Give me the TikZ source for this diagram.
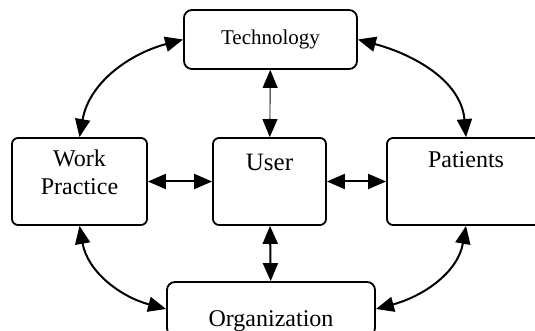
\documentclass[tikz,border=0pt]{standalone}
\usepackage{fontspec}
\setmainfont{Liberation Serif}
\usetikzlibrary{arrows.meta, positioning}

\begin{document}
\begin{tikzpicture}[x=0.5pt, y=0.5pt,
  block/.style={draw, line width=0.9pt, rounded corners=4pt, inner sep=0pt, align=center, font=\fontsize{12}{14}\selectfont},
  link/.style={line width=1pt, {Triangle[length=9pt, width=7.5pt]}-{Triangle[length=9pt, width=7.5pt]}}]
  \useasboundingbox (0,0) rectangle (535,331);
  \clip (0,0) rectangle (535,331);
  \node[block, minimum width=86.5pt, minimum height=29.5pt, font=\fontsize{10.5}{12}\selectfont] (tech) at (270.5,291.5) {Technology};
  \node[block, rounded corners=3pt, text width=67.5pt, text height=14.5pt, text depth=29pt] (work) at (79.5,149.5) {Work\\Practice};
  \node[block, rounded corners=3pt, text width=56.5pt, text height=16.5pt, text depth=27pt, font=\fontsize{12.5}{14}\selectfont] (user) at (269.5,149.5) {User};
  \node[block, rounded corners=3pt, text width=79pt, text height=15pt, text depth=28.5pt] (patients) at (466,149.5) {Patients};
  \node[block, text width=104pt, text height=22.5pt, text depth=4.5pt] (org) at (271,22) {Organization};

  \draw[link, line width=0.45pt] (tech) -- (user);
  \draw[link] (work) -- (user);
  \draw[link] (user) -- (patients);
  \draw[link] (user) -- (org);
  \draw[link] (work.north) to[out=80, in=195] (tech.west);
  \draw[link] (tech.east) to[out=-15, in=95] (patients.north);
  \draw[link] (work.south) to[out=-80, in=165] (org.west);
  \draw[link] (patients.south) to[out=-100, in=15] (org.east);
\end{tikzpicture}
\end{document}
